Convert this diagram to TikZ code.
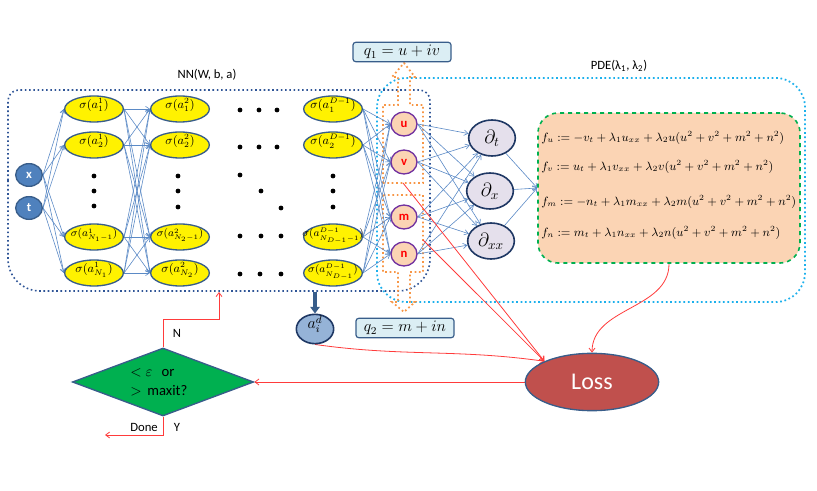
\documentclass[tikz,border=0pt]{standalone}
\usepackage{fontspec}
\setmainfont{Carlito}
\usetikzlibrary{arrows.meta,shapes.geometric,calc}
\definecolor{nnblue}{HTML}{4F81BD}
\definecolor{navy}{HTML}{385D8A}
\definecolor{dnavy}{HTML}{1F3864}
\definecolor{nnline}{HTML}{2F5597}
\definecolor{peach}{HTML}{FBD4B4}
\definecolor{orangeD}{HTML}{F79646}
\definecolor{cyanD}{HTML}{1CB0EC}
\definecolor{lav}{HTML}{E5E0EC}
\definecolor{lossred}{HTML}{C0504D}
\definecolor{grn}{HTML}{00B050}
\definecolor{qfill}{HTML}{DBEEF4}
\definecolor{aifill}{HTML}{95B3D7}
\definecolor{conncol}{HTML}{5B8AC6}
\definecolor{redl}{HTML}{FF3B3B}
\definecolor{outpurple}{HTML}{7030A0}
\pgfdeclarelayer{bg}\pgfdeclarelayer{lines}
\pgfsetlayers{bg,lines,main}
\newcommand{\lt}[1]{\smash{\makebox[0pt]{$#1$}}}
\newcommand{\ltl}[1]{\smash{\makebox[0pt]{\fontsize{7.6}{8}\selectfont$#1$}}}
\tikzset{
  lay/.style={ellipse, draw=navy, line width=1pt, fill=yellow, minimum width=44pt, minimum height=19.5pt, inner sep=0pt, font=\fontsize{9}{9}\selectfont},
  innode/.style={ellipse, draw=navy, line width=1pt, fill=nnblue, minimum width=20pt, minimum height=17pt, inner sep=0pt, text=white, font=\bfseries\fontsize{9.5}{9}\selectfont},
  outnode/.style={ellipse, draw=outpurple, line width=1pt, fill=peach, minimum width=19.5pt, minimum height=18pt, inner sep=0pt, text=red, font=\bfseries\fontsize{9.5}{9}\selectfont},
  pnode/.style={ellipse, draw=dnavy, line width=1.2pt, fill=lav, minimum width=35pt, minimum height=27pt, inner sep=0pt, font=\fontsize{14}{14}\selectfont},
  conn/.style={draw=conncol, line width=0.45pt, -{Straight Barb[length=3pt,width=4pt]}},
  redarr/.style={draw=redl, line width=0.6pt, -{Straight Barb[length=3pt,width=4.5pt]}},
  qbox/.style={draw=navy, line width=0.9pt, fill=qfill, rounded corners=2pt, minimum width=73.5pt, minimum height=14.5pt, inner sep=0pt, font=\fontsize{11.5}{11}\selectfont},
  dotc/.style={fill=black},
  lbl/.style={font=\fontsize{9.5}{10}\selectfont, inner sep=0pt},
  eqt/.style={anchor=west, inner sep=0pt, font=\fontsize{9.1}{10}\selectfont},
  orarrow/.style={draw=orangeD, line width=1.3pt, dotted},
}
\begin{document}
\begin{tikzpicture}[x=0.75pt,y=-0.75pt]
\useasboundingbox (0,0) rectangle (817,491);

% boxes
\begin{pgfonlayer}{bg}
\draw[draw=cyanD, line width=1.3pt, dotted, rounded corners=22pt] (377,78) rectangle (805,302);
\draw[draw=nnline, line width=1.2pt, dotted] (8,191) [rounded corners=8pt] -- (8,90) -- (430,90) [rounded corners=24pt] -- (430,291) -- (8,291) [rounded corners=8pt] -- cycle;
\end{pgfonlayer}

\node[lbl] (nnlabel) at (207,75) {NN(W, b, a)};
\node[lbl] (pdelabel) at (619,66) {PDE(λ\textsubscript{1}, λ\textsubscript{2})};

% inputs
\node[innode] (x) at (29,175) {x};
\node[innode] (t) at (29,208) {t};

% layer 1
\node[lay] (l1-1) at (94,109) {\lt{\sigma(a^{1}_{1})}};
\node[lay] (l1-2) at (94,145) {\lt{\sigma(a^{1}_{2})}};
\node[lay] (l1-3) at (94,237) {\ltl{\sigma(a^{1}_{N_1-1})}};
\node[lay] (l1-4) at (94,273) {\lt{\sigma(a^{1}_{N_1})}};
% layer 2
\node[lay] (l2-1) at (180,109) {\lt{\sigma(a^{2}_{1})}};
\node[lay] (l2-2) at (180,145) {\lt{\sigma(a^{2}_{2})}};
\node[lay] (l2-3) at (180,237) {\ltl{\sigma(a^{2}_{N_2-1})}};
\node[lay] (l2-4) at (180,273) {\lt{\sigma(a^{2}_{N_2})}};
% layer D-1
\node[lay] (l3-1) at (333,109) {\lt{\sigma(a^{D-1}_{1})}};
\node[lay] (l3-2) at (333,145) {\lt{\sigma(a^{D-1}_{2})}};
\node[lay] (l3-3) at (333,237) {\ltl{\sigma(a^{D-1}_{N_{D-1}-1})}};
\node[lay] (l3-4) at (333,273) {\ltl{\sigma(a^{D-1}_{N_{D-1}})}};

% dots
\foreach \px/\py in {94/176,94/191,94/206, 178/176,178/191,178/207, 333/176,333/191,333/207,
  240/110,259/110,277/110, 240/147,259/147,277/147, 240/175,261/191,281/208,
  240/236,261/236,281/236, 240/274,260/274,281/274}
  \fill[dotc] (\px,\py) circle (1.8pt);

% outputs
\node[outnode] (o1) at (404,124) {u};
\node[outnode] (o2) at (404,162) {v};
\node[outnode] (o3) at (404,217) {m};
\node[outnode] (o4) at (404,254) {n};

% partials
\node[pnode] (p1) at (492,138) {$\partial_t$};
\node[pnode] (p2) at (490,191) {$\partial_x$};
\node[pnode] (p3) at (491,241) {$\partial_{xx}$};

% equations box
\node[draw=grn, dashed, line width=1.2pt, fill=peach, rounded corners=15pt, minimum width=196.5pt, minimum height=112.5pt, inner sep=0pt] (eqbox) at (669,188) {};
\node[eqt] (e1) at (541,138) {$f_u := -v_t + \lambda_1 u_{xx} + \lambda_2 u(u^2+v^2+m^2+n^2)$};
\node[eqt] (e2) at (541,167) {$f_v := u_t + \lambda_1 v_{xx} + \lambda_2 v(u^2+v^2+m^2+n^2)$};
\node[eqt] (e3) at (541,202) {$f_m := -n_t + \lambda_1 m_{xx} + \lambda_2 m(u^2+v^2+m^2+n^2)$};
\node[eqt] (e4) at (541,233) {$f_n := m_t + \lambda_1 n_{xx} + \lambda_2 n(u^2+v^2+m^2+n^2)$};

% q boxes
\node[qbox] (q1) at (402,52) {$q_1 = u + iv$};
\node[qbox] (q2) at (405,328) {$q_2 = m + in$};

% a_i^d
\node[ellipse, draw=dnavy, line width=1.2pt, fill=aifill, minimum width=28pt, minimum height=22pt, inner sep=0pt, font=\fontsize{12}{12}\selectfont] (ai) at (315,329) {\smash{$a_i^d$}};

% loss
\node[ellipse, draw=navy, line width=1pt, fill=lossred, minimum width=100pt, minimum height=43pt, inner sep=0pt, text=white, font=\fontsize{18}{18}\selectfont] (loss) at (592,382) {Loss};

% diamond
\node[diamond, draw=navy, line width=1pt, fill=grn, minimum width=136pt, minimum height=51pt, inner sep=0pt, shape aspect=2.66] (dia) at (163,382) {};
\node[anchor=west, inner sep=0pt, font=\fontsize{11}{11}\selectfont] (dt1) at (130,373) {$<\varepsilon$ \, or};
\node[anchor=west, inner sep=0pt, font=\fontsize{11}{11}\selectfont] (dt2) at (130,391) {$>$\, maxit?};
\node[lbl] (nlab) at (177,333) {N};
\node[lbl] (donelab) at (144,427) {Done};
\node[lbl] (ylab) at (177,427) {Y};

% coordinates
\coordinate (ob1) at (403,183);
\coordinate (ob2) at (423,240);
\coordinate (nnb) at (315,292);
\coordinate (nnb2) at (219,292);
\coordinate (turnN) at (219,319);
\coordinate (doneend) at (105,435);

\begin{pgfonlayer}{lines}
% orange block arrows
\draw[orarrow] (383,183) -- (383,105) -- (398,105) -- (398,77) -- (392,77) -- (404,63) -- (415,77) -- (410,77) -- (410,105) -- (423,105) -- (423,183) -- cycle;
\draw[orarrow] (383,195) -- (383,272) -- (398,272) -- (398,302) -- (392,302) -- (404,312) -- (415,302) -- (410,302) -- (410,272) -- (423,272) -- (423,195) -- cycle;
% network connections
\foreach \i in {1,...,4}{
  \draw[conn] (x.east) -- (l1-\i.west);
  \draw[conn] (t.east) -- (l1-\i.west);
  \foreach \j in {1,...,4}{
    \draw[conn] (l1-\i.east) -- (l2-\j.west);
    \draw[conn] (l3-\i.east) -- (o\j.west);
  }
  \foreach \j in {1,2,3}{
    \draw[conn] (o\i.east) -- (p\j);
  }
}
\foreach \j in {1,2,3} \draw[conn] (p\j) -- (eqbox.west);
% thick arrow
\draw[draw=navy, line width=2.6pt, -{Triangle[length=5pt,width=7pt]}] (nnb) -- (ai.north);
% red lines
\draw[redarr] (ob1) -- (loss.north west);
\draw[redarr] (ob2) -- (loss.north west);
\draw[redarr] (ai.south) to[out=-8,in=172] (loss.north west);
\draw[redarr] (eqbox.south) to[out=-90,in=90] (loss.north);
\draw[redarr] (loss.west) -- (dia.east);
\draw[redarr] (dia.north) |- (turnN) -- (nnb2);
\draw[redarr] (dia.south) |- (doneend);
\end{pgfonlayer}
\end{tikzpicture}
\end{document}
